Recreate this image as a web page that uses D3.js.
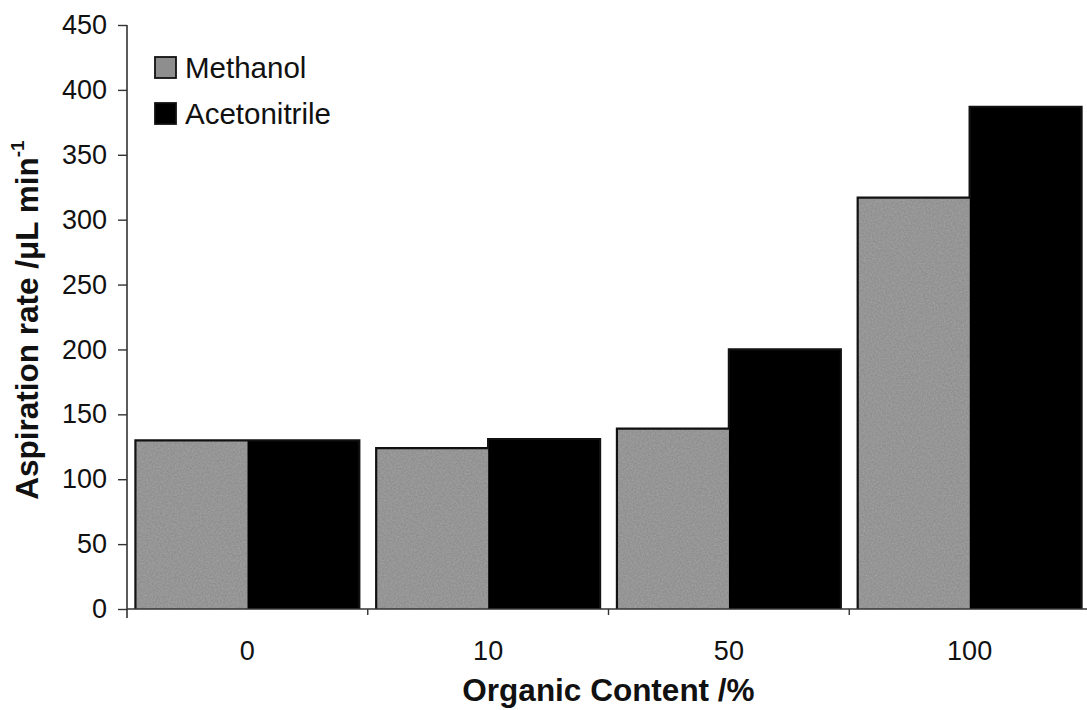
<!DOCTYPE html>
<html>
<head>
<meta charset="utf-8">
<script src="https://cdn.jsdelivr.net/npm/d3@7"></script>
<style>
  html, body { margin: 0; padding: 0; background: #fff; }
  svg { display: block; font-family: "Liberation Sans", Arial, sans-serif; }
</style>
</head>
<body>
<svg id="chart" width="1087" height="710"></svg>
<script>
const categories = ["0", "10", "50", "100"];
const seriesNames = ["Methanol", "Acetonitrile"];
const methanol = [130, 124, 139, 317];
const acetonitrile = [130, 131, 200, 387];
const yTicks = [0, 50, 100, 150, 200, 250, 300, 350, 400, 450];
const seriesColors = ["#8e8e8e", "#000000"];

const svg = d3.select("#chart");
const x0 = 127, x1 = 1090, yBottom = 609, yTop = 25;

const x = d3.scaleBand().domain(categories).range([x0, x1])
  .paddingInner(0.07).paddingOuter(0.035);
const xSub = d3.scaleBand().domain(seriesNames).range([0, x.bandwidth()]);
const y = d3.scaleLinear().domain([0, 450]).range([yBottom, yTop]);

const values = { "Methanol": methanol, "Acetonitrile": acetonitrile };
const color = d3.scaleOrdinal().domain(seriesNames).range(seriesColors);

// subtle texture for the grey series
const defs = svg.append("defs");
const filt = defs.append("filter").attr("id", "grain").attr("x", 0).attr("y", 0).attr("width", 1).attr("height", 1);
filt.append("feTurbulence").attr("type", "fractalNoise").attr("baseFrequency", 0.6).attr("numOctaves", 2).attr("seed", 3).attr("result", "noise");
filt.append("feColorMatrix").attr("in", "noise").attr("type", "matrix")
  .attr("values", "0 0 0 0 0.5  0 0 0 0 0.5  0 0 0 0 0.5  0 0 0 0.6 -0.15").attr("result", "n2");
filt.append("feComposite").attr("in", "n2").attr("in2", "SourceGraphic").attr("operator", "in").attr("result", "n3");
filt.append("feMerge").call(m => { m.append("feMergeNode").attr("in", "SourceGraphic"); m.append("feMergeNode").attr("in", "n3"); });

// bars
const groups = svg.append("g").selectAll("g").data(categories).join("g")
  .attr("transform", d => `translate(${x(d)},0)`);
groups.selectAll("rect")
  .data((d, i) => seriesNames.map(s => ({ s, v: values[s][i] })))
  .join("rect")
  .attr("x", d => xSub(d.s))
  .attr("y", d => y(d.v))
  .attr("width", xSub.bandwidth())
  .attr("height", d => y(0) - y(d.v))
  .attr("fill", d => color(d.s))
  .attr("filter", d => d.s === "Methanol" ? "url(#grain)" : null);
// group outlines
groups.append("path")
  .attr("d", (d, i) => {
    const w = xSub.bandwidth();
    const hm = y(methanol[i]), ha = y(acetonitrile[i]);
    return `M0,${y(0)}V${hm}H${w}V${ha}H${2*w}V${y(0)}`;
  })
  .attr("fill", "none").attr("stroke", "#111").attr("stroke-width", 2.2);

// y axis
const yAxis = svg.append("g").attr("transform", `translate(${x0},0)`)
  .call(d3.axisLeft(y).tickValues(yTicks).tickSize(9).tickPadding(11));
yAxis.select(".domain").attr("d", `M0,${yTop}V${yBottom + 9}`).attr("stroke", "#333").attr("stroke-width", 1.6);
yAxis.selectAll(".tick line").attr("stroke", "#333").attr("stroke-width", 1.4);
yAxis.selectAll(".tick text").attr("font-size", 27).attr("fill", "#111")
  .attr("font-family", "'Liberation Sans', Arial, sans-serif");

// x axis
const xBoundary = d3.scaleLinear().domain([0, categories.length]).range([x0, x1]);
const xAxis = svg.append("g").attr("transform", `translate(0,${yBottom})`)
  .call(d3.axisBottom(x).tickSize(0).tickPadding(32));
xAxis.select(".domain").attr("d", `M${x0},0H${x1}`).attr("stroke", "#333").attr("stroke-width", 1.6);
xAxis.selectAll(".tick text").attr("font-size", 27).attr("fill", "#111")
  .attr("font-family", "'Liberation Sans', Arial, sans-serif");
xAxis.selectAll(".bound").data(d3.range(1, categories.length)).join("line")
  .attr("x1", d => xBoundary(d)).attr("x2", d => xBoundary(d))
  .attr("y1", 0).attr("y2", 6).attr("stroke", "#333").attr("stroke-width", 1.4);

// axis titles
svg.append("text")
  .attr("x", (x0 + x1) / 2).attr("y", 701)
  .attr("text-anchor", "middle").attr("font-weight", "bold").attr("font-size", 31.5).attr("fill", "#111")
  .text("Organic Content /%");

const yt = svg.append("text")
  .attr("transform", `translate(38,${(yTop + yBottom) / 2 + 3}) rotate(-90)`)
  .attr("text-anchor", "middle").attr("font-weight", "bold").attr("font-size", 31.5).attr("fill", "#111");
yt.append("tspan").text("Aspiration rate /\u03BCL min");
yt.append("tspan").attr("font-size", 19).attr("dy", -14).text("-1");

// legend
const legend = svg.append("g").selectAll("g").data(seriesNames).join("g")
  .attr("transform", (d, i) => `translate(155,${57 + i * 46})`);
legend.append("rect").attr("width", 21).attr("height", 21)
  .attr("fill", d => color(d)).attr("stroke", "#111").attr("stroke-width", 1.8);
legend.append("text").attr("x", 30).attr("y", 21).attr("font-size", 29.5).attr("fill", "#111")
  .text(d => d);
</script>
</body>
</html>
